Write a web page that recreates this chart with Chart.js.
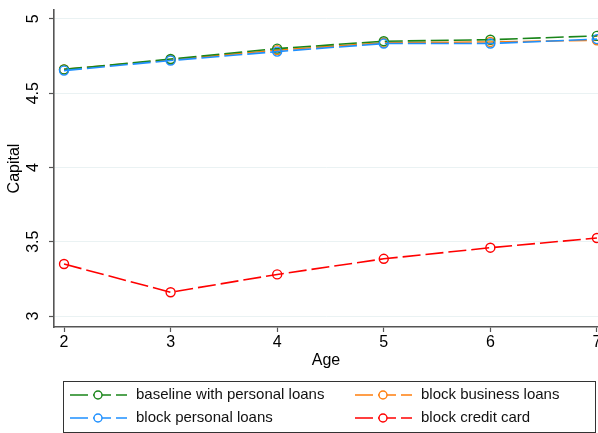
<!DOCTYPE html>
<html>
<head>
<meta charset="utf-8">
<script src="https://cdn.jsdelivr.net/npm/chart.js@4/dist/chart.umd.min.js"></script>
<style>
  html, body { margin: 0; padding: 0; background: #fff; }
  #wrap { width: 598px; height: 433px; position: relative; }
</style>
</head>
<body>
<div id="wrap"><canvas id="chart"></canvas></div>
<script>
const ages = [2, 3, 4, 5, 6, 7];
const yTicks = [3, 3.5, 4, 4.5, 5];

const baseline = [4.66, 4.73, 4.80, 4.85, 4.86, 4.886];
const blockBusiness = [4.66, 4.725, 4.79, 4.84, 4.845, 4.856];
const blockPersonal = [4.652, 4.72, 4.78, 4.834, 4.834, 4.864];
const blockCredit = [3.35, 3.16, 3.28, 3.385, 3.46, 3.525];

const DASH = [18, 5];
const FONT = "'Liberation Sans', Arial, sans-serif";

function makeSeries(label, values, color, order) {
    return {
        label: label,
        data: ages.map((a, i) => ({ x: a, y: values[i] })),
        borderColor: color,
        backgroundColor: 'rgba(0,0,0,0)',
        borderWidth: 1.6,
        borderDash: DASH,
        pointStyle: 'circle',
        pointRadius: 4.5,
        pointBorderWidth: 1.4,
        pointBorderColor: color,
        pointBackgroundColor: 'rgba(0,0,0,0)',
        tension: 0,
        clip: false,
        order: order,
    };
}

// legend drawn by hand in the Stata style: box, two columns, line-marker-line symbol
const stataLegend = {
    id: 'stataLegend',
    afterDraw(chart) {
        const ctx = chart.ctx;
        const ds = chart.data.datasets;
        const box = { left: 63, top: 381, right: 595, bottom: 432 };
        ctx.save();
        ctx.strokeStyle = '#333';
        ctx.lineWidth = 1;
        ctx.strokeRect(box.left + 0.5, box.top + 0.5, box.right - box.left, box.bottom - box.top);

        const cols = [70, 355];
        const rows = [395, 418];
        ctx.font = '15px ' + FONT;
        ctx.textBaseline = 'middle';
        ctx.textAlign = 'left';
        ds.forEach((d, i) => {
            const x = cols[i % 2];
            const y = rows[Math.floor(i / 2)];
            ctx.strokeStyle = d.borderColor;
            ctx.lineWidth = 1.6;
            ctx.setLineDash([18, 5]);
            ctx.beginPath();
            ctx.moveTo(x, y);
            ctx.lineTo(x + 57, y);
            ctx.stroke();
            ctx.setLineDash([]);
            ctx.lineWidth = 1.4;
            ctx.beginPath();
            ctx.arc(x + 28, y, 4, 0, Math.PI * 2);
            ctx.fillStyle = '#fff';
            ctx.fill();
            ctx.stroke();
            ctx.fillStyle = '#111';
            ctx.fillText(d.label, x + 66, y);
        });
        ctx.restore();
    }
};

const data = {
    datasets: [
        makeSeries('baseline with personal loans', baseline, 'rgb(26,133,26)', 2),
        makeSeries('block business loans', blockBusiness, 'rgb(255,127,14)', 3),
        makeSeries('block personal loans', blockPersonal, 'rgb(30,144,255)', 1),
        makeSeries('block credit card', blockCredit, 'rgb(255,0,0)', 0),
    ],
};

const config = {
    type: 'line',
    data: data,
    plugins: [stataLegend],
    options: {
        responsive: true,
        maintainAspectRatio: false,
        animation: false,
        layout: {
            autoPadding: false,
            padding: { top: 10, right: 0, bottom: 60, left: 0 },
        },
        plugins: {
            legend: { display: false },
            tooltip: { enabled: false },
        },
        scales: {
            x: {
                type: 'linear',
                min: 1.906,
                max: 7.01,
                afterBuildTicks: (axis) => { axis.ticks = ages.map(v => ({ value: v })); },
                afterFit: (axis) => {
                    axis.height = 46;
                    axis.paddingLeft = 0;
                    axis.paddingRight = 0;
                },
                ticks: {
                    color: '#000',
                    font: { family: FONT, size: 16 },
                    padding: 1,
                    maxRotation: 0,
                    callback: (v) => String(v),
                },
                grid: {
                    drawOnChartArea: false,
                    drawTicks: true,
                    tickLength: 5,
                    tickColor: '#555',
                    tickWidth: 1.2,
                },
                border: { color: '#555', width: 1.6 },
                title: {
                    display: true,
                    text: 'Age',
                    color: '#000',
                    font: { family: FONT, size: 16 },
                    padding: { top: 0, bottom: 3 },
                },
            },
            y: {
                min: 2.926,
                max: 5.06,
                afterBuildTicks: (axis) => { axis.ticks = yTicks.map(v => ({ value: v })); },
                afterFit: (axis) => {
                    axis.width = 54;
                    axis.paddingTop = 0;
                    axis.paddingBottom = 0;
                },
                ticks: {
                    color: '#000',
                    font: { family: FONT, size: 16 },
                    padding: 4,
                    minRotation: 90,
                    maxRotation: 90,
                    crossAlign: 'center',
                    callback: (v) => String(v),
                },
                grid: {
                    color: 'rgb(234,242,243)',
                    lineWidth: 1,
                    drawTicks: true,
                    tickLength: 5,
                    tickColor: '#555',
                    tickWidth: 1.2,
                },
                border: { color: '#555', width: 1.6 },
                title: {
                    display: true,
                    text: 'Capital',
                    color: '#000',
                    font: { family: FONT, size: 16 },
                    padding: { top: 5, bottom: 0 },
                },
            },
        },
    },
};

const chartElement = document.getElementById('chart');
window.myChart = new Chart(chartElement, config);
</script>
</body>
</html>
